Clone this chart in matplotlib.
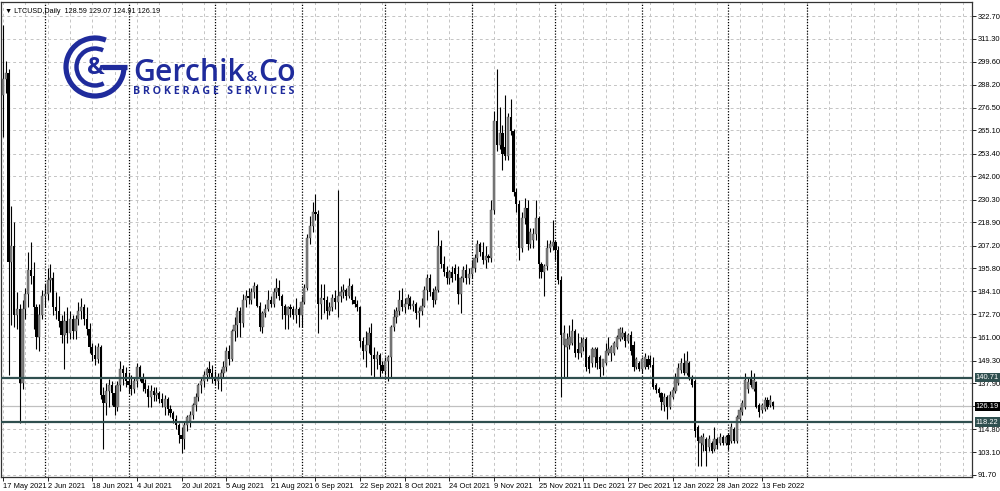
import matplotlib
matplotlib.use("Agg")
import matplotlib.pyplot as plt
from matplotlib.patches import Arc
from matplotlib.transforms import blended_transform_factory

# ── data: LTCUSD daily, 17 May 2021 .. 16 Feb 2022 ────────────────────────
opens = [
    283, 291, 294, 199, 207, 172, 175, 138, 175, 183, 195, 192, 176, 161, 172, 182,
    183, 190, 191, 176, 174, 169, 162, 169, 163, 170, 164, 170, 174, 176, 170, 165,
    156, 152, 150, 156, 132, 128, 134, 137, 133, 126, 137, 145, 143, 139,
    137, 135, 139, 146, 141, 138, 135, 131, 134, 132, 133, 130, 126, 130, 125, 123,
    120, 117, 112, 110, 117, 119, 122, 127, 131, 137, 139, 142, 145, 143, 140, 139,
    141, 143, 146, 154, 150, 164, 167, 174, 168, 180, 182, 180, 184, 187, 177,
    166, 173, 175, 180, 178, 184, 186, 182, 177, 172, 176, 175, 172, 175, 172, 179,
    186, 211, 217, 224, 223, 178, 181, 180, 174, 176, 181, 179, 182, 184, 185, 182,
    187, 180, 178, 176, 159, 154, 157, 163, 152, 150, 152, 147, 144, 149, 151,
    166, 171, 174, 180, 176, 178, 181, 177, 178, 173, 174, 177, 185, 191, 184, 180,
    185, 207, 198, 194, 191, 194, 196, 193, 183, 191, 195, 191, 193, 196, 201, 208,
    204, 200, 202, 201, 225, 270, 258, 264, 257, 252, 272, 265, 234, 228,
    206, 221, 226, 208, 210, 213, 221, 198, 194, 197, 206, 207, 209, 205, 190, 157,
    156, 157, 158, 164, 155, 153, 156, 160, 151, 148, 151, 155, 151, 146, 148, 153,
    153, 153, 156, 160, 161, 163, 159, 162, 157, 146, 148, 145, 146, 150,
    150, 147, 137, 135, 133, 127, 131, 126, 131, 134, 138, 144.5, 148, 143, 148, 141,
    139, 116, 108, 107, 110, 106, 108, 105, 110, 108, 111, 108, 112, 109, 115, 109,
    120, 123.6, 126, 135, 140.3, 135, 138.6, 127, 124.4, 125, 129.4, 127, 128.59,
]
highs = [
    318, 300, 296, 227, 219, 184, 178, 180, 186, 204, 209, 199, 178, 178, 185, 188,
    196, 198, 194, 184, 182, 172, 174, 176, 174, 172, 172, 179, 181, 178, 176, 168,
    158, 157, 158, 157, 136, 138, 140, 139, 137, 139, 149, 147, 146, 143,
    142, 141, 148, 147, 143, 140, 137, 137, 136, 136, 134, 133, 132, 131, 127, 124,
    122, 118, 116, 119, 122, 124, 128, 133, 138, 141, 144, 146, 149, 147, 144, 143,
    145, 149, 156, 157, 165, 171, 176, 176, 183, 185, 186, 186, 189, 188, 179,
    174, 178, 185, 182, 186, 191, 190, 183, 178, 177, 178, 177, 181, 176, 182, 188,
    213, 222, 229, 233, 225, 188, 188, 182, 179, 183, 185, 235, 187, 188, 186, 191,
    188, 182, 180, 177, 161, 164, 166, 168, 156, 154, 153, 149, 151, 152, 167,
    175, 176, 185, 186, 181, 183, 182, 180, 179, 176, 181, 187, 193, 193, 186, 187,
    215, 210, 202, 197, 195, 197, 198, 197, 192, 197, 198, 196, 200, 203, 210, 209,
    209, 207, 203, 230, 275, 296, 277, 268, 283, 274, 281, 266, 236, 230,
    224, 231, 230, 216, 216, 230, 222, 199, 198, 210, 210, 220, 210, 207, 192, 167,
    163, 167, 170, 165, 163, 161, 161, 161, 152, 156, 156, 156, 152, 150, 158, 161,
    157, 159, 162, 166, 166, 164, 163, 164, 159, 151, 149, 151, 153, 152,
    152, 151, 138, 136, 133.5, 133, 132, 134, 136, 143, 148, 150.4, 153, 154, 149, 142,
    140, 117, 112, 113, 111, 112, 109, 116, 111, 113, 112, 112, 113, 117.7, 116, 122,
    126, 129.4, 142.9, 141, 144.5, 142.9, 139, 128, 127.8, 131, 131, 132, 129.07,
]
lows = [
    262, 284, 142, 167, 166, 165, 118, 135, 170, 176, 188, 165, 155, 154, 170, 176,
    180, 184, 172, 170, 166, 158, 145, 158, 160, 160, 160, 167, 170, 167, 162, 153,
    149, 147, 148, 130, 105, 122, 126, 127, 122, 124, 134, 137, 136, 133,
    132, 133, 136, 139, 134, 133, 126, 126, 129, 129, 128, 126, 122, 122, 121, 118,
    115, 108, 103, 105, 114, 116, 120, 124, 129, 133, 136, 139, 141, 138, 137, 135,
    134, 141, 144, 147, 149, 159, 161, 161, 166, 176, 178, 178, 181, 176, 164,
    163, 171, 174, 176, 176, 181, 180, 170, 165, 165, 171, 170, 168, 166, 166, 178,
    185, 208, 214, 220, 163, 170, 173, 170, 172, 174, 175, 171, 179, 181, 180, 181,
    178, 176, 174, 156, 150, 146, 153, 142, 141, 145, 141, 143, 142, 139, 141,
    164, 168, 172, 174, 173, 175, 175, 174, 170, 166, 172, 176, 180, 182, 176, 178,
    184, 196, 192, 188, 188, 189, 190, 178, 173, 189, 188, 188, 191, 194, 199, 202,
    198, 196, 199, 199, 223, 255, 256, 245, 250, 250, 263, 232, 224, 200,
    204, 218, 205, 206, 206, 210, 191, 191, 182, 195, 204, 205, 200, 188, 131, 141,
    141, 155, 157, 151, 150, 151, 154, 144, 143, 146, 146, 145, 141, 142, 147, 152,
    149, 152, 155, 159, 160, 156, 158, 152, 144, 145, 144, 143, 145, 145,
    146, 135, 133, 131, 124.4, 124, 120, 125, 130, 133, 137, 143, 142, 142, 139.5, 136,
    111, 96, 96, 104, 96, 104, 102.6, 104, 105, 107, 107, 107, 104.3, 108, 107.6, 108,
    119, 122, 125, 133, 136, 134, 125.2, 121, 123, 124, 125, 126, 124.91,
]
closes = [
    291, 294, 199, 207, 172, 175, 138, 175, 183, 195, 192, 176, 161, 172, 182, 183,
    190, 191, 176, 174, 169, 162, 169, 163, 170, 164, 170, 174, 176, 170, 165, 156,
    152, 150, 156, 132, 128, 134, 137, 133, 126, 137, 145, 143, 139, 137,
    135, 139, 146, 141, 138, 135, 131, 134, 132, 133, 130, 128, 130, 125, 123, 120,
    117, 112, 110, 117, 121, 122, 127, 131, 137, 139, 142, 145, 143, 140, 139, 141,
    143, 146, 154, 150, 164, 167, 174, 168, 180, 182, 181, 184, 187, 177, 166,
    173, 175, 180, 178, 184, 186, 182, 177, 172, 176, 175, 172, 175, 172, 179, 186,
    211, 217, 224, 223, 178, 181, 180, 174, 176, 181, 179, 182, 184, 185, 182, 187,
    180, 178, 176, 159, 154, 157, 163, 152, 150, 152, 147, 144, 149, 151, 166,
    171, 174, 180, 176, 178, 181, 177, 178, 173, 174, 177, 185, 191, 184, 180, 185,
    207, 198, 194, 191, 194, 191, 193, 183, 191, 195, 191, 193, 196, 201, 208, 204,
    200, 202, 201, 225, 270, 258, 264, 253, 252, 272, 265, 234, 228, 206,
    221, 226, 208, 214, 213, 221, 198, 194, 197, 206, 208, 209, 205, 190, 162, 163,
    160, 161, 164, 153, 153, 158, 160, 146, 145, 155, 155, 148, 145, 150, 154, 155,
    156, 158, 161, 165, 163, 159, 162, 154, 146, 150, 145, 150, 151, 146,
    147, 136, 134.5, 133, 128.6, 131, 126, 132, 134.5, 141, 145.4, 148, 143, 149, 140, 137,
    114, 109, 111, 111, 104, 110, 104, 110, 107, 111, 108, 111, 107, 116, 109, 121,
    124.4, 127.8, 139.5, 138.6, 137, 139.5, 126, 123.6, 127, 129.4, 126, 129.4, 126.19,
]

date_labels = ["17 May 2021", "2 Jun 2021", "18 Jun 2021", "4 Jul 2021", "20 Jul 2021",
               "5 Aug 2021", "21 Aug 2021", "6 Sep 2021", "22 Sep 2021", "8 Oct 2021",
               "24 Oct 2021", "9 Nov 2021", "25 Nov 2021", "11 Dec 2021", "27 Dec 2021",
               "12 Jan 2022", "28 Jan 2022", "13 Feb 2022"]
label_bars = [0, 16, 32, 48, 64, 80, 96, 112, 128, 144, 160, 176, 192, 208, 224, 240, 256, 272]
month_start_bars = [15, 45, 76, 107, 137, 168, 198, 229, 260, 288]
price_ticks = [322.70, 311.30, 299.60, 288.20, 276.50, 265.10, 253.40, 242.00, 230.30,
               218.90, 207.20, 195.80, 184.10, 172.70, 161.00, 149.30, 137.90, 126.20,
               114.80, 103.10, 91.70]
levels = [140.71, 118.22]
last_price = 126.19

BLUE = "#1f2b9c"
SLATE = "#2f4f4f"
GRID = "#c4c4c4"
BULL = "#7f7f7f"
LBL_FONT = "Liberation Sans"

fig = plt.figure(figsize=(10, 4.91), dpi=100)
fig.patch.set_facecolor("white")
ax = fig.add_axes([0.001, 14 / 491, 0.971, 475 / 491])
ax.set_xlim(-0.72, 347.3)
ax.set_ylim(90.69, 329.75)

# grid
for p in price_ticks:
    ax.axhline(p, color=GRID, lw=0.7, ls=(0, (3, 3)), zorder=0)
for b in range(0, 348, 8):
    ax.axvline(b, color=GRID, lw=0.7, ls=(0, (3, 3)), zorder=0)
for b in month_start_bars:
    ax.axvline(b, color="black", lw=0.9, ls=(0, (1, 1.3)), zorder=1)

# candles
n = len(closes)
idx = list(range(n))
ax.vlines(idx, lows, highs, color="black", lw=0.8, zorder=2)
bull = [i for i in idx if closes[i] >= opens[i]]
bear = [i for i in idx if closes[i] < opens[i]]
ax.bar(bull, [max(closes[i] - opens[i], 0.6) for i in bull],
       bottom=[opens[i] for i in bull], width=0.8, color=BULL,
       edgecolor="#4a4a4a", linewidth=0.3, zorder=3)
ax.bar(bear, [max(opens[i] - closes[i], 0.6) for i in bear],
       bottom=[closes[i] for i in bear], width=0.8, color="black",
       linewidth=0, zorder=3)

# levels and last price
for lv in levels:
    ax.axhline(lv, color=SLATE, lw=1.6, zorder=4)
ax.axhline(last_price, color="#c0c0c0", lw=0.9, zorder=1.5)

# axes styling
for s in ax.spines.values():
    s.set_color("#333333")
    s.set_linewidth(0.9)
ax.yaxis.tick_right()
ax.set_yticks(price_ticks)
ax.set_yticklabels(["" if abs(p - 126.20) < 0.01 else f"{p:.2f}" for p in price_ticks])
ax.tick_params(axis="y", length=3, width=0.6, pad=1, labelsize=5.4, colors="black")
ax.set_xticks(label_bars)
ax.set_xticklabels(date_labels)
for t in ax.get_xticklabels():
    t.set_horizontalalignment("left")
ax.tick_params(axis="x", length=3, width=0.6, pad=1.5, labelsize=5.4)
for t in ax.get_xticklabels() + ax.get_yticklabels():
    t.set_fontfamily(LBL_FONT)

tr = blended_transform_factory(ax.transAxes, ax.transData)
for lv in levels:
    ax.text(1.004, lv, f"{lv:.2f}", transform=tr, ha="left", va="center",
            fontsize=5.4, family=LBL_FONT, color="white", clip_on=False, zorder=6,
            bbox=dict(boxstyle="square,pad=0.18", fc=SLATE, ec="none"))
ax.text(1.004, last_price, f"{last_price:.2f}", transform=tr, ha="left", va="center",
        fontsize=5.4, family=LBL_FONT, color="white", clip_on=False, zorder=6,
        bbox=dict(boxstyle="square,pad=0.18", fc="black", ec="none"))

# header
ax.text(0.004, 0.988, "\u25bc LTCUSD,Daily  128.59 129.07 124.91 126.19",
        transform=ax.transAxes, ha="left", va="top", fontsize=5.2,
        family=["Liberation Sans", "DejaVu Sans"], zorder=7)

# ── logo overlay in pixel coordinates ─────────────────────────────────────
ov = fig.add_axes([0, 0, 1, 1], zorder=5)
ov.set_xlim(0, 1000)
ov.set_ylim(491, 0)
ov.axis("off")
ov.patch.set_alpha(0)

cx, cy = 95, 67
lw_pt = 5.2 * 72 / 100
# y axis is inverted: visual angle a -> data angle -a
ov.add_patch(Arc((cx, cy), 58, 58, theta1=0, theta2=292, lw=lw_pt, color=BLUE))
ov.plot([cx + 7, cx + 31.5], [cy, cy], color=BLUE, lw=lw_pt, solid_capstyle="butt")
ov.add_patch(Arc((cx, cy), 37, 37, theta1=62, theta2=296, lw=lw_pt * 0.85, color=BLUE))
ov.text(cx + 1, cy + 1, "&", ha="center", va="center", fontsize=17,
        fontweight="bold", color=BLUE, family="Open Sans")

r = fig.canvas.get_renderer()
kw = dict(ha="left", va="baseline", color=BLUE, family="Open Sans", fontweight="semibold")

# "Gerchik" and "Co" share one size, the "&" is about half of it
base = 28
t1 = ov.text(0, 0, "Gerchik", fontsize=base, **kw)
t2 = ov.text(0, 0, "&", fontsize=base * 0.5, **kw)
t3 = ov.text(0, 0, "Co", fontsize=base, **kw)
ws = [t.get_window_extent(renderer=r).width for t in (t1, t2, t3)]
scale = (295 - 133) / (sum(ws) + 2)
x0 = 133
for t, w in zip((t1, t2, t3), ws):
    t.set_fontsize(t.get_fontsize() * scale)
    t.set_position((x0, 80.5))
    x0 += w * scale + 1

word = "B R O K E R A G E   S E R V I C E S"
tb = ov.text(133, 94, word, fontsize=7, ha="left", va="baseline", color=BLUE,
             family="Open Sans", fontweight="bold")
wb = tb.get_window_extent(renderer=r).width
tb.set_fontsize(7 * (295 - 133) / wb)

fig.savefig("out.png", dpi=100)
